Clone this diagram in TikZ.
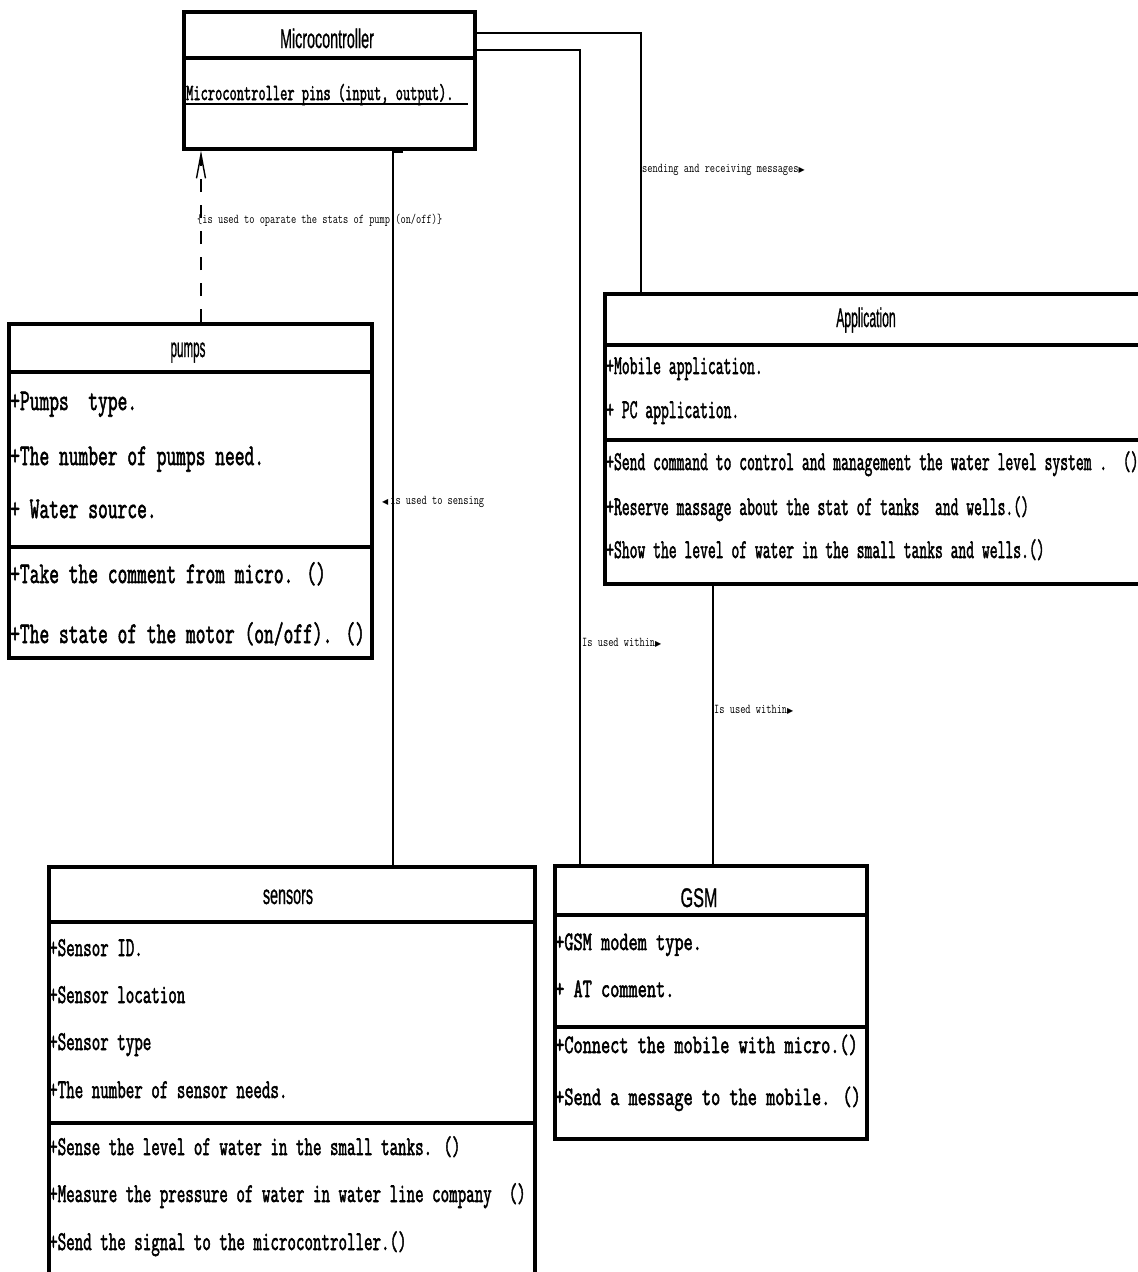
\documentclass[tikz,border=0pt]{standalone}
\usepackage{fontspec}
\usepackage{graphicx}
\setmainfont{Liberation Sans}
\setmonofont{Latin Modern Mono}
\newfontfamily\bmono[FakeBold=2.4]{Latin Modern Mono}
\newfontfamily\hdfont[FakeBold=1.2]{Liberation Sans}
\newfontfamily\symf{DejaVu Sans}
\usetikzlibrary{arrows.meta}
\newcommand\sx[2]{\scalebox{#1}[1]{#2}}
\newcommand\pT[1]{\scalebox{0.632}[1]{\fontsize{30}{30}\selectfont #1}}
\newcommand\aT[1]{\scalebox{0.563}[1]{\fontsize{27}{27}\selectfont #1}}
\newcommand\sT[1]{\scalebox{0.612}[1]{\fontsize{27}{27}\selectfont #1}}
\newcommand\gT[1]{\scalebox{0.672}[1]{\fontsize{26.5}{26.5}\selectfont #1}}
\newcommand\mT[1]{\scalebox{0.61}[1]{\fontsize{23}{23}\selectfont #1}}
\newcommand\lT[1]{\scalebox{0.75}[1]{#1}}
\newcommand\rtri{{\symf\fontsize{8}{8}\selectfont ▶}}
\newcommand\ltri{{\symf\fontsize{8}{8}\selectfont ◀}}
\begin{document}
\begin{tikzpicture}[x=1pt,y=-1pt,
  box/.style={draw, line width=3.5pt, inner sep=0pt, anchor=north west},
  sep/.style={line width=3.5pt},
  conn/.style={line width=1.4pt},
  hd/.style={inner sep=0pt, anchor=base, font=\hdfont\fontsize{27}{27}\selectfont},
  mt/.style={inner sep=0pt, anchor=base west, font=\bmono},
  lb/.style={inner sep=0pt, anchor=west, font=\ttfamily\fontsize{13.5}{14}\selectfont}]
\useasboundingbox (0,0) rectangle (1138,1272);

% ---------- boxes ----------
\node[box, minimum width=291pt, minimum height=137pt] (micro) at (182,10) {};
\node[box, minimum width=363pt, minimum height=334pt] (pumps) at (7,322) {};
\node[box, minimum width=545pt, minimum height=290pt] (app) at (603,292) {};
\node[box, minimum width=486pt, minimum height=430pt] (sensors) at (47,865) {};
\node[box, minimum width=312pt, minimum height=273pt] (gsm) at (553,864) {};

% separators
\draw[sep] (182,58) -- (473,58);
\draw[sep] (7,372) -- (370,372);
\draw[sep] (7,547) -- (370,547);
\draw[sep] (603,345) -- (1148,345);
\draw[sep] (603,440) -- (1148,440);
\draw[sep] (47,922) -- (533,922);
\draw[sep] (47,1123) -- (533,1123);
\draw[sep] (553,915) -- (865,915);
\draw[sep] (553,1027) -- (865,1027);

% ---------- Microcontroller ----------
\node[hd] (hmicro) at (327,48) {\sx{0.53}{Microcontroller}};
\node[mt] (amicro) at (186,100) {\mT{Microcontroller pins (input, output).}};
\draw[line width=1.2pt] (186,104) -- (468,104);
\node[inner sep=0pt, font=\ttfamily\fontsize{10}{10}\selectfont] (mk1) at (185,86) {'};
\node[inner sep=0pt, font=\symf\fontsize{7}{7}\selectfont] (mk2) at (185,121) {‹};

% ---------- pumps ----------
\node[hd] (hpumps) at (188,357) {\sx{0.43}{pumps}};
\node[mt] (p1) at (10,410) {\pT{+Pumps\ \ type.}};
\node[mt] (p2) at (10,465) {\pT{+The number of pumps need.}};
\node[mt] (p3) at (10,518) {\pT{+ Water source.}};
\node[mt] (p4) at (10,583) {\pT{+Take the comment from micro. ()}};
\node[mt] (p5) at (10,643) {\pT{+The state of the motor (on/off). ()}};

% ---------- Application ----------
\node[hd] (happ) at (866,327) {\sx{0.45}{Application}};
\node[mt] (a1) at (606,374) {\aT{+Mobile application.}};
\node[mt] (a2) at (606,418) {\aT{+ PC application.}};
\node[mt] (a3) at (606,470) {\aT{+Send command to control and management the water level system .\ \ ()}};
\node[mt] (a4) at (606,515) {\aT{+Reserve massage about the stat of tanks\ \ and wells.()}};
\node[mt] (a5) at (606,558) {\aT{+Show the level of water in the small tanks and wells.()}};

% ---------- sensors ----------
\node[hd] (hsens) at (288,904) {\sx{0.53}{sensors}};
\node[mt] (s1) at (49,956) {\sT{+Sensor ID.}};
\node[mt] (s2) at (49,1003) {\sT{+Sensor location}};
\node[mt] (s3) at (49,1050) {\sT{+Sensor type}};
\node[mt] (s4) at (49,1098) {\sT{+The number of sensor needs.}};
\node[mt] (s5) at (49,1155) {\sT{+Sense the level of water in the small tanks. ()}};
\node[mt] (s6) at (49,1202) {\sT{+Measure the pressure of water in water line company\ \ ()}};
\node[mt] (s7) at (49,1250) {\sT{+Send the signal to the microcontroller.()}};

% ---------- GSM ----------
\node[hd] (hgsm) at (699,907) {\sx{0.6}{GSM}};
\node[mt] (g1) at (555,950) {\gT{+GSM modem type.}};
\node[mt] (g2) at (555,997) {\gT{+ AT comment.}};
\node[mt] (g3) at (555,1053) {\gT{+Connect the mobile with micro.()}};
\node[mt] (g4) at (555,1105) {\gT{+Send a message to the mobile. ()}};

% ---------- connectors ----------
\coordinate (dx) at (201,0);
\coordinate (sxx) at (393,0);
\coordinate (gx) at (580,0);
\coordinate (ax) at (641,0);
\coordinate (bx) at (713,0);

\draw[conn, dash pattern=on 13pt off 13pt, -{Straight Barb[length=24pt,width=9pt,line width=1.4pt]}]
  (pumps.north -| dx) -- (micro.south -| dx);
\draw[conn] (micro.south -| sxx) -- (sensors.north -| sxx);
\fill (392,147) rectangle (403,153);
\draw[conn] ([yshift=-40pt]micro.north east) -| (gsm.north -| gx);
\draw[conn] ([yshift=-23pt]micro.north east) -| (app.north -| ax);
\draw[conn] (app.south -| bx) -- (gsm.north -| bx);

% labels
\node[lb] (l1) at (197,220) {\lT{\{is used to oparate the stats of pump (on/off)\}}};
\node[lb] (l2) at (382,502) {\ltri\hspace{2pt}\lT{is used to sensing}};
\node[lb] (l3) at (642,170) {\lT{sending and receiving messages}\rtri};
\node[lb] (l4) at (582,643) {\lT{Is used within}\rtri};
\node[lb] (l5) at (714,710) {\lT{Is used within}\rtri};
\end{tikzpicture}
\end{document}
